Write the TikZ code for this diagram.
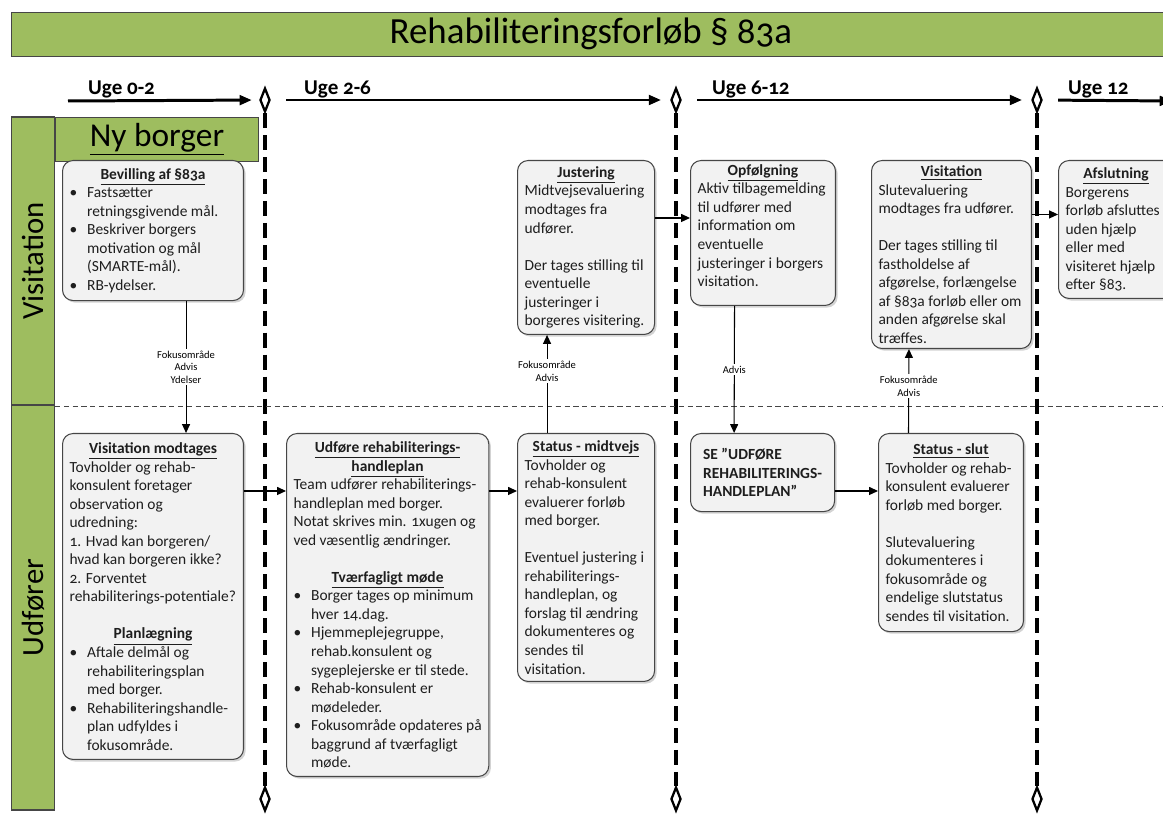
\documentclass[tikz,border=0pt]{standalone}
\usepackage{fontspec}
\setmainfont{Carlito}[Numbers=OldStyle]
\usepackage{tikz}
\usetikzlibrary{arrows.meta, positioning, shapes.geometric, shadows}

\definecolor{groen}{RGB}{158,189,95}
\definecolor{boksfyld}{RGB}{242,242,242}
\definecolor{kant}{RGB}{70,70,70}
\definecolor{tekst}{RGB}{30,30,30}

\newlength{\tekstbredde}
\newcommand{\overskrift}[1]{\makebox[\tekstbredde][c]{\textbf{\underline{#1}}}}
\newcommand{\pkt}{\makebox[10pt][l]{\textbullet}}
\newcommand{\ind}{\hspace*{10pt}}
\newcommand{\bund}[1]{\rule[-#1]{0pt}{#1}}

\begin{document}
\begin{tikzpicture}[x=0.02cm, y=-0.02cm,
  boks/.style={rectangle, rounded corners=6pt, draw=kant, fill=boksfyld, line width=0.6pt,
               drop shadow={shadow xshift=1.2pt, shadow yshift=-1.2pt, opacity=0.35},
               anchor=north west, align=left, inner xsep=4pt, inner ysep=2pt,
               minimum width=#1, text=tekst, font=\fontsize{8.8pt}{10.55pt}\selectfont,
               execute at begin node={\setlength{\tekstbredde}{#1}\addtolength{\tekstbredde}{-8pt}}},
  bane/.style={rectangle, draw=kant, fill=groen, line width=0.6pt, inner sep=0pt,
               font=\fontsize{17.5pt}{20pt}\selectfont},
  titel/.style={rectangle, draw=kant, fill=groen, line width=0.6pt, anchor=north west,
                font=\fontsize{21pt}{24pt}\selectfont},
  ruder/.style={shape=diamond, draw=black, line width=1.3pt, fill=white, inner sep=0pt,
                minimum width=5.7pt, minimum height=13.6pt},
  skille/.style={line width=1.8pt, dash pattern=on 8.5pt off 4pt},
  baneskille/.style={draw=kant, line width=0.5pt, dash pattern=on 3pt off 2pt},
  tidspil/.style={-{Triangle[length=7pt, width=5.5pt]}, line width=1.7pt},
  pil/.style={-{Triangle[length=5pt, width=4.5pt]}, line width=0.6pt},
  etiket/.style={fill=white, inner sep=1pt, align=center, font=\fontsize{6pt}{7.2pt}\selectfont},
  uge/.style={anchor=base west, font=\fontsize{12pt}{14pt}\selectfont\bfseries}
]
\useasboundingbox (0,0) rectangle (1163,837);
\clip (0,0) rectangle (1163,837);

\node[titel, minimum width=659.5pt, minimum height=22.8pt] (titel) at (11,12) {Rehabiliteringsforløb § 83a};

\node[ruder] (d1top) at (265,100) {};
\node[ruder] (d2top) at (676,100) {};
\node[ruder] (d3top) at (1037,100) {};
\node[ruder] (d1bund) at (265,799) {};
\node[ruder] (d2bund) at (676,799) {};
\node[ruder] (d3bund) at (1037,799) {};

\coordinate (t0) at (68,101);
\coordinate (t4) at (1172,101);
\draw[tidspil, shorten >=4pt] (t0) -- (d1top);
\draw[tidspil, shorten <=8.5pt, shorten >=5pt] (d1top) -- (d2top);
\draw[tidspil, shorten <=8.5pt, shorten >=5pt] (d2top) -- (d3top);
\draw[tidspil, shorten <=8.5pt] (d3top) -- (t4);

\node[uge] (uge1) at (82,95) {Uge 0-2};
\node[uge] (uge2) at (298,95) {Uge 2-6};
\node[uge] (uge3) at (706,95) {Uge 6-12};
\node[uge] (uge4) at (1062,95) {Uge 12};

\draw[skille] (d1top) -- (d1bund);
\draw[skille] (d2top) -- (d2bund);
\draw[skille] (d3top) -- (d3bund);

\node[bane, rotate=90, minimum width=163.9pt, minimum height=25pt] (visbane) at (33,261) {Visitation};
\node[bane, rotate=90, minimum width=230.5pt, minimum height=25pt] (udfbane) at (33,607.5) {Udfører};
\node[bane, anchor=north west, minimum width=115.5pt, minimum height=25pt,
      font=\fontsize{19pt}{22pt}\selectfont] (nyborger) at (55,117) {\underline{Ny borger}};

\coordinate (sep0) at (55,406);
\coordinate (sep1) at (1170,406);
\draw[baneskille] (sep0) -- (sep1);

\node[boks=103pt, minimum height=79.7pt] (bevilling) at (62,160) {\overskrift{Bevilling af §83a}\\
  \pkt Fastsætter\\
  \ind retningsgivende mål.\\
  \pkt Beskriver borgers\\
  \ind motivation og mål\\
  \ind (SMARTE-mål).\\
  \pkt RB-ydelser.};

\node[boks=78pt, minimum height=99pt] (justering) at (517,160) {\overskrift{Justering}\\
  Midtvejsevaluering\\
  modtages fra\\
  udfører.\\[10.55pt]
  Der tages stilling til\\
  eventuelle\\
  justeringer i\\
  borgeres visitering.};

\node[boks=82.5pt, minimum height=82.5pt] (opfoelgning) at (690,160) {\overskrift{Opfølgning}\\
  Aktiv tilbagemelding\\
  til udfører med\\
  information om\\
  eventuelle\\
  justeringer i borgers\\
  visitation.\bund{8.5pt}};

\node[boks=91pt, minimum height=107pt] (visitation) at (871,160) {\overskrift{Visitation}\\
  Slutevaluering\\
  modtages fra udfører.\\[10.55pt]
  Der tages stilling til\\
  fastholdelse af\\
  afgørelse, forlængelse\\
  af §83a forløb eller om\\
  anden afgørelse skal\\
  træffes.};

\node[boks=65.4pt, minimum height=78.5pt] (afslutning) at (1058,160) {\overskrift{Afslutning}\\
  Borgerens\\
  forløb afsluttes\\
  uden hjælp\\
  eller med\\
  visiteret hjælp\\
  efter §83.};

\node[boks=103pt, minimum height=185.5pt] (modtages) at (62,433) {\overskrift{Visitation modtages}\\
  Tovholder og rehab-\\
  konsulent foretager\\
  observation og\\
  udredning:\\
  1. Hvad kan borgeren/\\
  hvad kan borgeren ikke?\\
  2. Forventet\\
  rehabiliterings-potentiale?\\[10.55pt]
  \overskrift{Planlægning}\\
  \pkt Aftale delmål og\\
  \ind rehabiliteringsplan\\
  \ind med borger.\\
  \pkt Rehabiliteringshandle-\\
  \ind plan udfyldes i\\
  \ind fokusområde.};

\node[boks=115pt, minimum height=195.2pt] (udfoere) at (286,433) {\overskrift{Udføre rehabiliterings-}\\
  \overskrift{handleplan}\\
  Team udfører rehabiliterings-\\
  handleplan med borger.\\
  Notat skrives min. 1xugen og\\
  ved væsentlig ændringer.\\[10.55pt]
  \overskrift{Tværfagligt møde}\\
  \pkt Borger tages op minimum\\
  \ind hver 14.dag.\\
  \pkt Hjemmeplejegruppe,\\
  \ind rehab.konsulent og\\
  \ind sygeplejerske er til stede.\\
  \pkt Rehab-konsulent er\\
  \ind mødeleder.\\
  \pkt Fokusområde opdateres på\\
  \ind baggrund af tværfagligt\\
  \ind møde.};

\node[boks=78pt, minimum height=141.1pt] (midtvejs) at (517,433) {\overskrift{Status - midtvejs}\\
  Tovholder og\\
  rehab-konsulent\\
  evaluerer forløb\\
  med borger.\\[10.55pt]
  Eventuel justering i\\
  rehabiliterings-\\
  handleplan, og\\
  forslag til ændring\\
  dokumenteres og\\
  sendes til\\
  visitation.};

\node[boks=82pt, minimum height=44.4pt] (se) at (690,433) {\textbf{SE ”UDFØRE}\\
  \textbf{REHABILITERINGS-}\\
  \textbf{HANDLEPLAN”}};

\node[boks=82.5pt, minimum height=112.7pt] (slut) at (878,433) {\overskrift{Status - slut}\\
  Tovholder og rehab-\\
  konsulent evaluerer\\
  forløb med borger.\\[10.55pt]
  Slutevaluering\\
  dokumenteres i\\
  fokusområde og\\
  endelige slutstatus\\
  sendes til visitation.};

\draw[pil] ([xshift=18.8pt]bevilling.south) -- node[etiket, pos=0.5]{Fokusområde\\Advis\\Ydelser} ([xshift=18.8pt]modtages.north);
\draw[pil] ([yshift=-33pt]modtages.north east) -- ([yshift=-33pt]udfoere.north west);
\draw[pil] ([yshift=-33pt]udfoere.north east) -- ([yshift=-33pt]midtvejs.north west);
\draw[pil] ([xshift=-22.2pt]midtvejs.north) -- node[etiket, pos=0.63]{Fokusområde\\Advis} ([xshift=-22.2pt]justering.south);
\draw[pil] ([yshift=-33pt]justering.north east) -- ([yshift=-33pt]opfoelgning.north west);
\draw[pil] ([xshift=-16.2pt]opfoelgning.south) -- node[etiket, pos=0.5]{Advis} ([xshift=-16.2pt]se.north);
\draw[pil] ([yshift=-33pt]se.north east) -- ([yshift=-33pt]slut.north west);
\draw[pil] ([xshift=-24.2pt]slut.north) -- node[etiket, pos=0.56]{Fokusområde\\Advis} ([xshift=-24.2pt]visitation.south);
\draw[pil] ([yshift=-31pt]visitation.north east) -- ([yshift=-31pt]afslutning.north west);

\end{tikzpicture}
\end{document}
